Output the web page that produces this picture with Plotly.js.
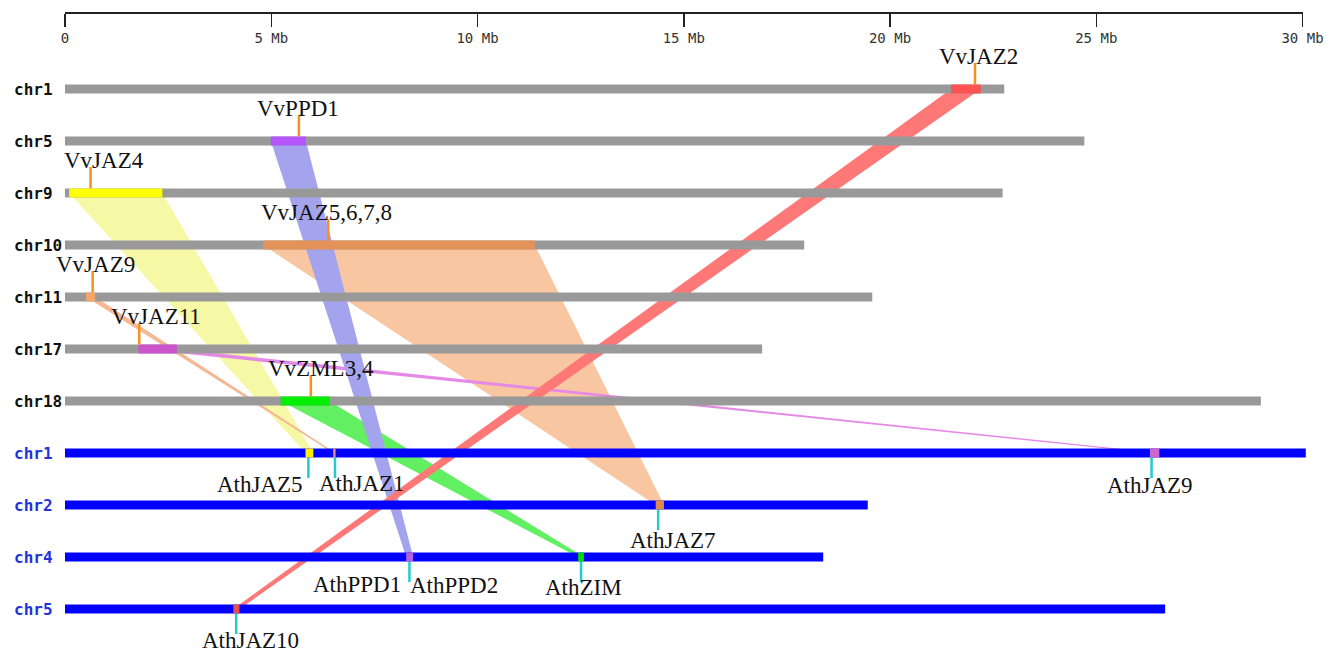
<!DOCTYPE html>
<html><head><meta charset="utf-8">
<script src="https://cdn.plot.ly/plotly-3.0.1.min.js"></script>
<style>html,body{margin:0;padding:0;background:#fff;} #chart{width:1336px;height:653px;}</style>
</head><body><div id="chart"></div>
<script>
// ---------------- data ----------------
const vvChroms = ['chr1','chr5','chr9','chr10','chr11','chr17','chr18'];
const vvLengths = [22.77, 24.71, 22.73, 17.92, 19.57, 16.90, 28.99];
const athChroms = ['chr1','chr2','chr4','chr5'];
const athLengths = [30.08, 19.46, 18.38, 26.67];
const tickVals = [0, 5, 10, 15, 20, 25, 30];
const tickLabels = ['0', '5 Mb', '10 Mb', '15 Mb', '20 Mb', '25 Mb', '30 Mb'];

const vvGenes = ['VvJAZ2','VvPPD1','VvJAZ4','VvJAZ5,6,7,8','VvJAZ9','VvJAZ11','VvZML3,4'];
const vvGeneChrom = ['chr1','chr5','chr9','chr10','chr11','chr17','chr18'];
const vvGenePos = [22.06, 5.67, 0.62, 6.38, 0.67, 1.80, 5.96];
const vvBlockStart = [21.48, 4.99, 0.10, 4.80, 0.51, 1.78, 5.23];
const vvBlockEnd = [22.20, 5.84, 2.36, 11.39, 0.73, 2.71, 6.41];

const athTargetChrom = ['chr5','chr4','chr1','chr2','chr1','chr1','chr4'];
const athBlockStart = [4.08, 8.27, 5.83, 14.32, 6.50, 26.30, 12.44];
const athBlockEnd = [4.23, 8.44, 6.02, 14.52, 6.56, 26.53, 12.58];
const athGenePos = [4.15, 8.35, 5.90, 14.38, 6.545, 26.34, 12.51];
const athGeneLabels = ['AthJAZ10','AthPPD1','AthJAZ5','AthJAZ7','AthJAZ1','AthJAZ9','AthZIM'];
const athExtraLabel = 'AthPPD2';   // second gene sharing the AthPPD1 marker
const athExtraIndex = 1;

// ---------------- styles ----------------
const blockColors  = ['#ff5252','#b455ff','#ffff00','#e3925a','#f2a66e','#cc55cc','#00ee00'];
const ribbonColors = ['#ff7878','#a4a4ee','#f6f8a6','#f8c6a0','#f4b894','#e48ae6','#62f062'];
const athBlockColors = ['#e85050','#b060e0','#ffee00','#e08a4a','#e89060','#cc66cc','#00dd00'];
const drawOrder = [3, 2, 6, 5, 4, 1, 0];
const vvLabelShift = [4, -1, 13, -2, 3, 17, 10];
const athLabelAnchor = ['center','right','right','center','left','center','center'];
const athLabelShift = [14, -6, -3, 15, -18, -2, 2];
const athLabelDy = [31.5, 27, 31, 35.5, 30, 32, 30];

const ROW_PX = 52, TOP_PX = 89, X0_PX = 65, MB_PX = 41.25, W = 1336, H = 653;
const u = px => px / ROW_PX;
const vvRow = c => vvChroms.indexOf(c);
const athRow = c => vvChroms.length + athChroms.indexOf(c);

const traces = [];
// ribbons
drawOrder.forEach(i => {
  const gy = vvRow(vvGeneChrom[i]), ay = athRow(athTargetChrom[i]);
  traces.push({
    type: 'scatter', mode: 'lines', fill: 'toself', fillcolor: ribbonColors[i],
    line: {width: 0, color: ribbonColors[i]}, hoverinfo: 'skip',
    x: [vvBlockStart[i], vvBlockEnd[i], athBlockEnd[i], athBlockStart[i], vvBlockStart[i]],
    y: [gy, gy, ay, ay, gy]
  });
});
// chromosome bars
function barTrace(names, lens, rowFn, color) {
  const x = [], y = [];
  names.forEach((c, k) => { x.push(0, lens[k], null); y.push(rowFn(c), rowFn(c), null); });
  return {type: 'scatter', mode: 'lines', x, y, line: {color, width: 9}, hoverinfo: 'skip'};
}
traces.push(barTrace(vvChroms, vvLengths, vvRow, '#999999'));
traces.push(barTrace(athChroms, athLengths, athRow, '#0000ff'));
// blocks
vvGenes.forEach((g, i) => {
  const gy = vvRow(vvGeneChrom[i]), ay = athRow(athTargetChrom[i]);
  traces.push({type: 'scatter', mode: 'lines', x: [vvBlockStart[i], vvBlockEnd[i]], y: [gy, gy],
    line: {color: blockColors[i], width: 9}, hoverinfo: 'skip'});
  traces.push({type: 'scatter', mode: 'lines', x: [athBlockStart[i], athBlockEnd[i]], y: [ay, ay],
    line: {color: athBlockColors[i], width: 9}, hoverinfo: 'skip'});
});
// gene marker ticks
const mvx = [], mvy = [], max = [], may = [];
vvGenes.forEach((g, i) => {
  const gy = vvRow(vvGeneChrom[i]);
  mvx.push(vvGenePos[i], vvGenePos[i], null); mvy.push(gy - u(26), gy - u(4.5), null);
  const ay = athRow(athTargetChrom[i]);
  max.push(athGenePos[i], athGenePos[i], null); may.push(ay + u(4.5), ay + u(25), null);
});
traces.push({type: 'scatter', mode: 'lines', x: mvx, y: mvy, line: {color: '#f7901e', width: 2.5}, hoverinfo: 'skip'});
traces.push({type: 'scatter', mode: 'lines', x: max, y: may, line: {color: '#22cccc', width: 2.5}, hoverinfo: 'skip'});
// dummy for scale axis
traces.push({type: 'scatter', mode: 'markers', x: [0], y: [0], xaxis: 'x2', yaxis: 'y2',
  marker: {opacity: 0}, hoverinfo: 'skip'});

const annotations = [];
const chrFont = {family: 'DejaVu Sans Mono, monospace', size: 16, weight: 'bold'};
vvChroms.forEach(c => annotations.push({xref: 'paper', yref: 'y', x: 12 / W, y: vvRow(c),
  xanchor: 'left', yanchor: 'middle', showarrow: false, text: '<b>' + c + '</b>',
  font: Object.assign({}, chrFont, {color: '#111111'})}));
athChroms.forEach(c => annotations.push({xref: 'paper', yref: 'y', x: 12 / W, y: athRow(c),
  xanchor: 'left', yanchor: 'middle', showarrow: false, text: '<b>' + c + '</b>',
  font: Object.assign({}, chrFont, {color: '#2233dd'})}));
const geneFont = {family: 'Liberation Serif, Times New Roman, serif', size: 23, color: '#111111'};
vvGenes.forEach((g, i) => annotations.push({xref: 'x', yref: 'y', x: vvGenePos[i],
  y: vvRow(vvGeneChrom[i]) - u(33), xanchor: 'center', yanchor: 'middle', xshift: vvLabelShift[i],
  showarrow: false, text: g, font: geneFont}));
athGeneLabels.forEach((g, i) => annotations.push({xref: 'x', yref: 'y', x: athGenePos[i],
  y: athRow(athTargetChrom[i]) + u(athLabelDy[i]), xanchor: athLabelAnchor[i], yanchor: 'middle',
  xshift: athLabelShift[i], showarrow: false, text: g, font: geneFont}));
annotations.push({xref: 'x', yref: 'y', x: athGenePos[athExtraIndex],
  y: athRow(athTargetChrom[athExtraIndex]) + u(28), xanchor: 'left', yanchor: 'middle', xshift: -1,
  showarrow: false, text: athExtraLabel, font: geneFont});

const layout = {
  width: W, height: H, margin: {l: 0, r: 0, t: 0, b: 0},
  paper_bgcolor: '#ffffff', plot_bgcolor: 'rgba(0,0,0,0)', showlegend: false,
  xaxis: {visible: false, range: [-X0_PX / MB_PX, (W - X0_PX) / MB_PX], domain: [0, 1], fixedrange: true},
  yaxis: {visible: false, range: [(H - TOP_PX) / ROW_PX, -TOP_PX / ROW_PX], domain: [0, 1], fixedrange: true},
  xaxis2: {anchor: 'y2', domain: [X0_PX / W, (X0_PX + 30 * MB_PX) / W], range: [0, 30],
    tickvals: tickVals, ticktext: tickLabels, ticks: 'outside', ticklen: 13, tickwidth: 1.5,
    tickcolor: '#222222', showline: true, linecolor: '#222222', linewidth: 1.5,
    showgrid: false, zeroline: false, side: 'bottom', ticklabelstandoff: 0,
    tickfont: {family: 'DejaVu Sans Mono, monospace', size: 14, color: '#333333'}},
  yaxis2: {anchor: 'x2', domain: [1 - 12 / H, 1], range: [0, 1], visible: false},
  annotations
};
Plotly.newPlot('chart', traces, layout, {displayModeBar: false, staticPlot: true});
</script></body></html>
